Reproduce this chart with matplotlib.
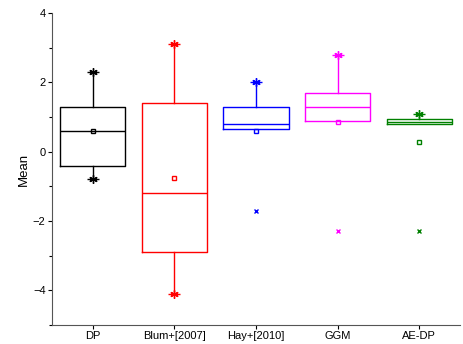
import matplotlib
matplotlib.use("Agg")
import matplotlib.pyplot as plt
from matplotlib.ticker import MultipleLocator

plt.rcParams["font.family"] = ["Liberation Sans", "DejaVu Sans"]

methods = ["DP", "Blum+[2007]", "Hay+[2010]", "GGM", "AE-DP"]
colors = ["#000000", "#ff0000", "#0000ff", "#ff00ff", "#008000"]
q1 = [-0.4, -2.9, 0.67, 0.9, 0.8]
q3 = [1.3, 1.4, 1.3, 1.7, 0.95]
median = [0.6, -1.2, 0.8, 1.3, 0.87]
mean = [0.6, -0.75, 0.6, 0.87, 0.28]
whis_hi = [2.3, 3.1, 2.0, 2.8, 1.1]
whis_lo = [-0.8, -4.1, 0.67, 0.9, 0.8]
extremes = [[], [], [-1.7], [-2.3], [-2.3]]

fig = plt.figure(figsize=(4.63, 3.44), dpi=100)
ax = fig.add_axes([0.112, 0.055, 0.882, 0.907])

for i, name in enumerate(methods):
    c = colors[i]
    st = [{"label": name, "q1": q1[i], "q3": q3[i], "med": median[i],
           "mean": mean[i], "whislo": whis_lo[i], "whishi": whis_hi[i],
           "fliers": extremes[i]}]
    ax.bxp(st, positions=[i + 1], widths=0.8, showmeans=True, showcaps=False,
           boxprops=dict(color=c, lw=1.0),
           medianprops=dict(color=c, lw=1.0),
           whiskerprops=dict(color=c, lw=1.0),
           meanprops=dict(marker="s", markersize=3.5, markerfacecolor="none",
                          markeredgecolor=c, markeredgewidth=1.0),
           flierprops=dict(marker="x", markersize=3.5, markeredgecolor=c,
                           markeredgewidth=1.0))
    # max/min markers at whisker ends
    ends = [whis_hi[i]]
    if whis_lo[i] < q1[i]:
        ends.append(whis_lo[i])
    for e in ends:
        ax.plot([i + 1], [e], marker=(6, 2, 0), markersize=6, color=c, mew=1.0)
        ax.plot([i + 1], [e], marker="_", markersize=9, color=c, mew=1.0)

ax.set_xlim(0.5, 5.5)
ax.set_ylim(-5, 4)
ax.set_xticks(range(1, 6))
ax.set_xticklabels(methods)
ax.yaxis.set_major_locator(MultipleLocator(2))
ax.yaxis.set_minor_locator(MultipleLocator(1))
ax.tick_params(axis="both", direction="out", labelsize=8, length=3, width=0.8, pad=1.5)
ax.tick_params(axis="y", which="minor", direction="out", length=2, width=0.8)
ax.set_ylabel("Mean", fontsize=9.5)
ax.yaxis.set_label_coords(-0.055, 0.5)
ax.spines["top"].set_visible(False)
ax.spines["right"].set_visible(False)
ax.spines["left"].set_color("#555555")
ax.spines["bottom"].set_color("#555555")

fig.savefig("out.png", dpi=100)
